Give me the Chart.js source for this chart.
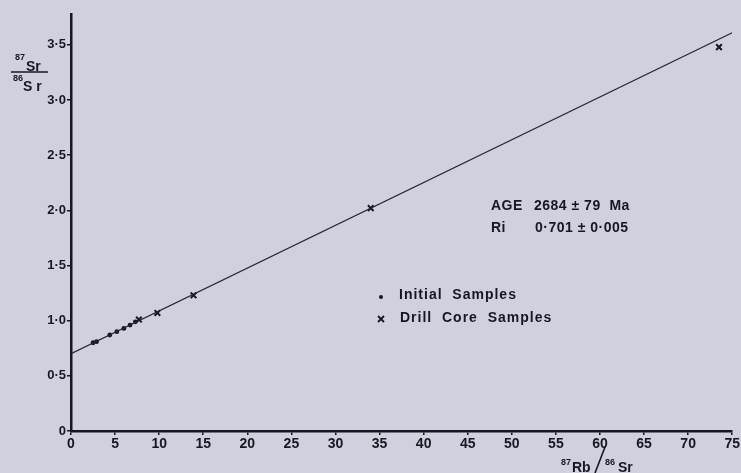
<!DOCTYPE html>
<html>
<head>
<meta charset="utf-8">
<script src="https://cdn.jsdelivr.net/npm/chart.js@4.4.1/dist/chart.umd.min.js"></script>
<style>
  html, body { margin: 0; padding: 0; background: #cfd1de; }
  #wrap { width: 741px; height: 473px; position: relative; }
</style>
</head>
<body>
<div id="wrap"><canvas id="isochron"></canvas></div>
<script>
// ===== data =====
const initialRb = [2.5, 2.9, 4.4, 5.2, 6.0, 6.7, 7.3];
const initialSr = [0.80, 0.81, 0.87, 0.90, 0.93, 0.96, 0.99];

const drillRb = [7.7, 9.8, 13.9, 34.0, 73.5];
const drillSr = [1.01, 1.07, 1.23, 2.02, 3.48];

// isochron line end points
const lineRb = [0, 75];
const lineSr = [0.701, 3.61];

const xTicks = [0, 5, 10, 15, 20, 25, 30, 35, 40, 45, 50, 55, 60, 65, 70, 75];
const yTicks = [0, 0.5, 1.0, 1.5, 2.0, 2.5, 3.0, 3.5];

const INK = '#17171f';
const FONT = '"Liberation Sans", Arial, sans-serif';

function toPoints(xs, ys) {
    return xs.map((x, i) => ({ x: x, y: ys[i] }));
}

// y ticks use the old middle-dot decimal point
function fmtDot(v) {
    if (v === 0) return '0';
    return v.toFixed(1).replace('.', '\u00b7');
}

// ===== text drawn on top (labels, legend, age) =====
const textPlugin = {
    id: 'isoText',
    afterDraw(chart) {
        const c = chart.ctx;
        c.save();
        c.fillStyle = INK;
        c.strokeStyle = INK;
        c.textBaseline = 'alphabetic';

        // y axis label 87Sr / 86Sr
        c.font = 'bold 9px ' + FONT;
        c.fillText('87', 15, 60);
        c.font = 'bold 14px ' + FONT;
        c.fillText('Sr', 26, 71);
        c.lineWidth = 1.5;
        c.beginPath();
        c.moveTo(11, 72);
        c.lineTo(48, 72);
        c.stroke();
        c.font = 'bold 9px ' + FONT;
        c.fillText('86', 13, 81);
        c.font = 'bold 14px ' + FONT;
        c.fillText('S r', 23, 91);

        // x axis label 87Rb / 86Sr
        c.font = 'bold 9px ' + FONT;
        c.fillText('87', 561, 465);
        c.font = 'bold 14px ' + FONT;
        c.fillText('Rb', 572, 472);
        c.lineWidth = 1.6;
        c.beginPath();
        c.moveTo(605, 447);
        c.lineTo(595, 473);
        c.stroke();
        c.font = 'bold 9px ' + FONT;
        c.fillText('86', 605, 465);
        c.font = 'bold 14px ' + FONT;
        c.fillText('Sr', 618, 472);

        // age block
        c.font = 'bold 14px ' + FONT;
        c.letterSpacing = '0.5px';
        c.fillText('AGE', 491, 210);
        c.fillText('2684 \u00b1 79  Ma', 534, 210);
        c.fillText('Ri', 491, 232);
        c.fillText('0\u00b7701 \u00b1 0\u00b7005', 535, 232);

        // legend
        c.letterSpacing = '1px';
        c.fillText('Initial  Samples', 399, 299);
        c.fillText('Drill  Core  Samples', 400, 322);
        c.letterSpacing = '0px';
        c.beginPath();
        c.arc(381, 297, 2, 0, Math.PI * 2);
        c.fill();
        c.lineWidth = 1.8;
        c.beginPath();
        c.moveTo(378, 316); c.lineTo(384, 322);
        c.moveTo(384, 316); c.lineTo(378, 322);
        c.stroke();

        c.restore();
    }
};

const ctx = document.getElementById('isochron').getContext('2d');

const chart = new Chart(ctx, {
    type: 'scatter',
    data: {
        datasets: [
            {
                label: 'Isochron',
                type: 'line',
                data: toPoints(lineRb, lineSr),
                borderColor: '#26262e',
                borderWidth: 1.3,
                pointRadius: 0,
                fill: false,
                tension: 0
            },
            {
                label: 'Initial Samples',
                data: toPoints(initialRb, initialSr),
                pointStyle: 'circle',
                pointRadius: 2.4,
                backgroundColor: INK,
                borderColor: INK,
                borderWidth: 0
            },
            {
                label: 'Drill Core Samples',
                data: toPoints(drillRb, drillSr),
                pointStyle: 'crossRot',
                pointRadius: 4,
                borderColor: INK,
                borderWidth: 2
            }
        ]
    },
    options: {
        responsive: true,
        maintainAspectRatio: false,
        animation: false,
        layout: { padding: { left: 0, right: 8, top: 14, bottom: 0 } },
        plugins: {
            legend: { display: false },
            tooltip: { enabled: false }
        },
        scales: {
            x: {
                type: 'linear',
                min: 0,
                max: 75,
                afterFit: (s) => { s.height = 42; },
                afterBuildTicks: (s) => { s.ticks = xTicks.map(v => ({ value: v })); },
                grid: { display: true, drawOnChartArea: false, drawTicks: true, tickLength: 4, color: INK, lineWidth: 1.5 },
                border: { display: true, color: INK, width: 2.5 },
                ticks: {
                    color: INK,
                    padding: 1,
                    maxRotation: 0,
                    autoSkip: false,
                    font: { family: FONT, size: 14, weight: 'bold' }
                }
            },
            y: {
                type: 'linear',
                min: 0,
                max: 3.78,
                afterFit: (s) => { s.width = 71; },
                afterBuildTicks: (s) => { s.ticks = yTicks.map(v => ({ value: v })); },
                grid: { display: true, drawOnChartArea: false, drawTicks: true, tickLength: 4, color: INK, lineWidth: 1.5 },
                border: { display: true, color: INK, width: 2.5 },
                ticks: {
                    color: INK,
                    padding: 1,
                    autoSkip: false,
                    font: { family: FONT, size: 13, weight: 'bold' },
                    callback: (v) => fmtDot(v)
                }
            }
        }
    },
    plugins: [textPlugin]
});
</script>
</body>
</html>
